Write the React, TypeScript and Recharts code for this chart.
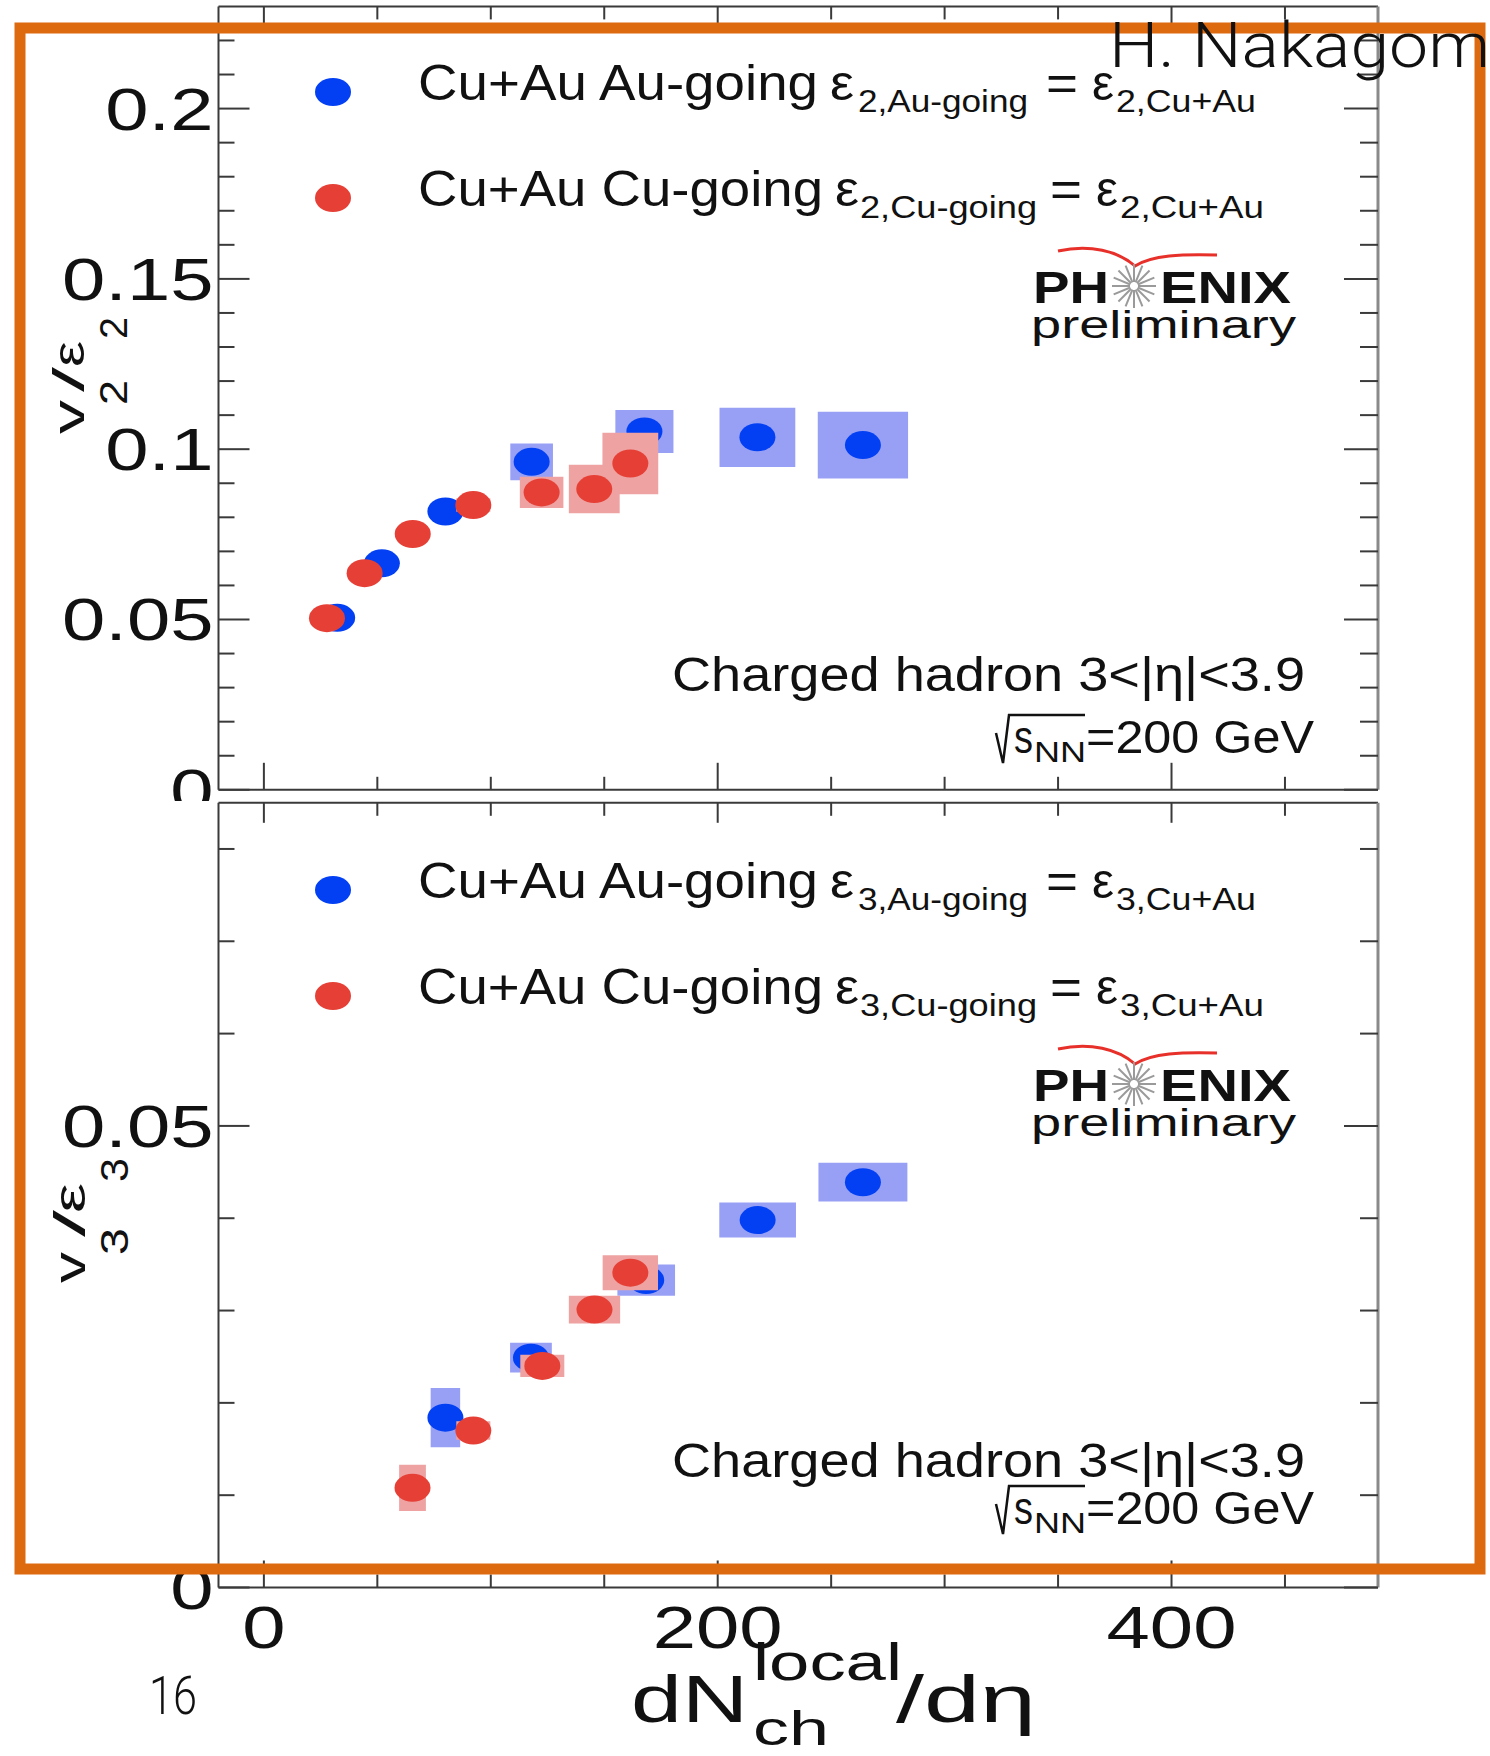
import React from "react";
import { ScatterChart, Scatter, XAxis, YAxis, ReferenceArea } from "recharts";

const FONT = "'Liberation Sans', Arial, Helvetica, sans-serif";
const LIGHT = "Roboto, 'Liberation Sans', sans-serif";
const BLUE = "#0340f4";
const RED = "#e63f36";
const BLUE_BOX = "#98a0f6";
const RED_BOX = "#eea2a2";
const ORANGE = "#de6a10";
const AXIS = "#3a3a3a";

// x axis: dN_ch^local/dη
const xDomain = [-20, 491];
const xTicks = [0, 50, 100, 150, 200, 250, 300, 350, 400, 450];
const xLabels = [0, 200, 400];

// v2/ε2 panel axis
const v2Domain = [0, 0.23];
const v2Ticks = [0, 0.01, 0.02, 0.03, 0.04, 0.05, 0.06, 0.07, 0.08, 0.09, 0.1, 0.11, 0.12, 0.13, 0.14, 0.15, 0.16, 0.17, 0.18, 0.19, 0.2, 0.21, 0.22];
const v2Labels = [0, 0.05, 0.1, 0.15, 0.2];

// v3/ε3 panel axis
const v3Domain = [0, 0.085];
const v3Ticks = [0, 0.01, 0.02, 0.03, 0.04, 0.05, 0.06, 0.07, 0.08];
const v3Labels = [0, 0.05];

// Cu+Au, Au-going, v2/ε2 (value, half-width of sys box)
const auX2 = [32.3, 52.0, 80.0, 118.0, 167.7, 217.5, 264.0];
const auV2 = [0.0505, 0.0665, 0.0817, 0.0963, 0.1052, 0.1035, 0.1012];
const auSysX2 = [3.0, 4.5, 6.5, 9.4, 12.8, 16.7, 19.9];
const auSysV2 = [0.0012, 0.0015, 0.002, 0.0054, 0.0063, 0.0087, 0.0098];

// Cu+Au, Cu-going, v2/ε2
const cuX2 = [27.8, 44.4, 65.6, 92.3, 122.4, 145.6, 161.5];
const cuV2 = [0.0504, 0.0636, 0.0751, 0.0836, 0.0873, 0.0883, 0.0958];
const cuSysX2 = [2.5, 4.0, 5.9, 7.5, 9.6, 11.2, 12.3];
const cuSysV2 = [0.0012, 0.0015, 0.002, 0.002, 0.0046, 0.0071, 0.009];

// Cu+Au, Au-going, v3/ε3
const auX3 = [80.0, 117.7, 168.5, 217.6, 264.0];
const auV3 = [0.0184, 0.0249, 0.0333, 0.0398, 0.0439];
const auSysX3 = [6.5, 9.2, 12.7, 16.9, 19.6];
const auSysV3 = [0.0032, 0.0016, 0.0017, 0.0019, 0.0021];

// Cu+Au, Cu-going, v3/ε3
const cuX3 = [65.5, 92.3, 122.7, 145.7, 161.5];
const cuV3 = [0.0108, 0.017, 0.024, 0.0301, 0.0341];
const cuSysX3 = [5.9, 7.5, 9.7, 11.3, 12.2];
const cuSysV3 = [0.0025, 0.001, 0.0012, 0.0015, 0.0019];

const toPoints = (xs: number[], ys: number[], sx: number[], sy: number[]) =>
  xs.map((x, i) => ({ x, y: ys[i], sx: sx[i], sy: sy[i] }));

const au2 = toPoints(auX2, auV2, auSysX2, auSysV2);
const cu2 = toPoints(cuX2, cuV2, cuSysX2, cuSysV2);
const au3 = toPoints(auX3, auV3, auSysX3, auSysV3);
const cu3 = toPoints(cuX3, cuV3, cuSysX3, cuSysV3);

const isMajor = (v: number, labels: number[]) => labels.some((l) => Math.abs(l - v) < 1e-9);
const fmt = (v: number) => (v === 0 ? "0" : String(v));

// ROOT-like wide text
function Stretch({ x, y, size, sx = 1.32, anchor = "start", children }: any) {
  return (
    <text
      transform={`translate(${x},${y}) scale(${sx},1)`}
      textAnchor={anchor}
      fontSize={size}
      fontFamily={FONT}
      fill="#111"
    >
      {children}
    </text>
  );
}

function T({ x, y, len, size, weight = 400, family = FONT, fill = "#111", children }: any) {
  return (
    <text
      x={x}
      y={y}
      fontSize={size}
      fontWeight={weight}
      fontFamily={family}
      fill={fill}
      textLength={len}
      lengthAdjust="spacingAndGlyphs"
    >
      {children}
    </text>
  );
}

// rotated (reads bottom to top)
function R({ x, y, len, size, children }: any) {
  return (
    <text
      transform={`translate(${x},${y}) rotate(-90)`}
      fontSize={size}
      fontFamily={FONT}
      fill="#111"
      textLength={len}
      lengthAdjust="spacingAndGlyphs"
    >
      {children}
    </text>
  );
}

const LeftTick = ({ x, y, payload, labels }: any) => {
  const major = isMajor(payload.value, labels);
  return (
    <g>
      <line x1={x} x2={x + (major ? 31 : 16)} y1={y} y2={y} stroke={AXIS} strokeWidth={2} />
      {major && (
        <Stretch x={x - 5} y={y + 21} size={59} anchor="end">
          {fmt(payload.value)}
        </Stretch>
      )}
    </g>
  );
};

const RightTick = ({ x, y, payload, labels }: any) => {
  const major = isMajor(payload.value, labels);
  return <line x1={x} x2={x - (major ? 34 : 18)} y1={y} y2={y} stroke={AXIS} strokeWidth={2} />;
};

const TopTick = ({ x, y, payload }: any) => {
  const major = isMajor(payload.value, xLabels);
  return <line x1={x} x2={x} y1={y} y2={y + (major ? 20 : 13)} stroke={AXIS} strokeWidth={2} />;
};

const BottomTick = ({ x, y, payload, showLabel }: any) => {
  const major = isMajor(payload.value, xLabels);
  return (
    <g>
      <line x1={x} x2={x} y1={y} y2={y - (major ? 27 : 13)} stroke={AXIS} strokeWidth={2} />
      {showLabel && major && (
        <Stretch x={x} y={y + 60} size={59} anchor="middle">
          {fmt(payload.value)}
        </Stretch>
      )}
    </g>
  );
};

const blueDot = (p: any) => <ellipse cx={p.cx} cy={p.cy} rx={18} ry={14} fill={BLUE} />;
const redDot = (p: any) => <ellipse cx={p.cx} cy={p.cy} rx={18} ry={14} fill={RED} />;

// axes are 1px thick so Recharts draws them; margins leave the plot frame at
// x 218.5..1378
function Panel({ top, height, marginTop, marginBottom, yDomain, yTicks, yLabels, au, cu, showXLabels }: any) {
  const common = {
    type: "number" as const,
    interval: 0 as const,
    allowDataOverflow: true,
    tickSize: 0,
    tickMargin: 0,
    tickLine: false,
  };
  return (
    <div style={{ position: "absolute", left: 0, top, width: 1490, height, background: "#fff" }}>
      <ScatterChart
        width={1490}
        height={height}
        margin={{ top: marginTop - 1, right: 111, bottom: marginBottom - 1, left: 217.5 }}
      >
        <XAxis
          {...common}
          xAxisId="B"
          dataKey="x"
          orientation="bottom"
          height={1}
          domain={xDomain}
          ticks={xTicks}
          axisLine={{ stroke: AXIS, strokeWidth: 2 }}
          tick={(p: any) => <BottomTick {...p} showLabel={showXLabels} />}
        />
        <XAxis
          {...common}
          xAxisId="T"
          dataKey="x"
          orientation="top"
          height={1}
          domain={xDomain}
          ticks={xTicks}
          axisLine={{ stroke: AXIS, strokeWidth: 2 }}
          tick={(p: any) => <TopTick {...p} />}
        />
        <YAxis
          {...common}
          yAxisId="L"
          dataKey="y"
          orientation="left"
          width={1}
          domain={yDomain}
          ticks={yTicks}
          axisLine={{ stroke: AXIS, strokeWidth: 2 }}
          tick={(p: any) => <LeftTick {...p} labels={yLabels} />}
        />
        <YAxis
          {...common}
          yAxisId="R"
          dataKey="y"
          orientation="right"
          width={1}
          domain={yDomain}
          ticks={yTicks}
          axisLine={{ stroke: "#8a8a8a", strokeWidth: 3 }}
          tick={(p: any) => <RightTick {...p} labels={yLabels} />}
        />
        {au.map((p: any, i: number) => (
          <ReferenceArea
            key={`ab${i}`}
            xAxisId="B"
            yAxisId="L"
            x1={p.x - p.sx}
            x2={p.x + p.sx}
            y1={p.y - p.sy}
            y2={p.y + p.sy}
            fill={BLUE_BOX}
            fillOpacity={1}
            stroke="none"
            ifOverflow="visible"
            zIndex={300}
          />
        ))}
        <Scatter data={au} xAxisId="B" yAxisId="L" shape={blueDot} isAnimationActive={false} zIndex={400} />
        {cu.map((p: any, i: number) => (
          <ReferenceArea
            key={`cb${i}`}
            xAxisId="T"
            yAxisId="R"
            x1={p.x - p.sx}
            x2={p.x + p.sx}
            y1={p.y - p.sy}
            y2={p.y + p.sy}
            fill={RED_BOX}
            fillOpacity={1}
            stroke="none"
            ifOverflow="visible"
            zIndex={500}
          />
        ))}
        <Scatter data={cu} xAxisId="T" yAxisId="R" shape={redDot} isAnimationActive={false} zIndex={600} />
      </ScatterChart>
    </div>
  );
}

function Legend({ dy, n }: any) {
  return (
    <g transform={`translate(0,${dy})`}>
      <ellipse cx={333} cy={92} rx={18} ry={14} fill={BLUE} />
      <T x={418} y={100} len={400} size={50}>Cu+Au Au-going</T>
      <T x={830} y={100} len={24} size={50}>ε</T>
      <T x={858} y={112} len={170} size={31}>{`${n},Au-going`}</T>
      <T x={1046} y={100} len={32} size={50}>=</T>
      <T x={1092} y={100} len={22} size={50}>ε</T>
      <T x={1116} y={112} len={140} size={31}>{`${n},Cu+Au`}</T>

      <ellipse cx={333} cy={198} rx={18} ry={14} fill={RED} />
      <T x={418} y={206} len={405} size={50}>Cu+Au Cu-going</T>
      <T x={835} y={206} len={24} size={50}>ε</T>
      <T x={860} y={218} len={177} size={31}>{`${n},Cu-going`}</T>
      <T x={1050} y={206} len={32} size={50}>=</T>
      <T x={1096} y={206} len={22} size={50}>ε</T>
      <T x={1120} y={218} len={144} size={31}>{`${n},Cu+Au`}</T>
    </g>
  );
}

function Logo({ dy }: any) {
  const cx = 1134;
  const cy = 286;
  const rays = Array.from({ length: 16 }, (_, i) => (i * Math.PI) / 8);
  return (
    <g transform={`translate(0,${dy})`}>
      <path
        d="M1058,251 C1090,244 1118,251 1135,266 C1152,255 1182,254 1217,255"
        stroke="#e8302a"
        strokeWidth={3}
        fill="none"
      />
      <T x={1033} y={303} len={76} size={45} weight={700}>PH</T>
      {rays.map((a, i) => (
        <line
          key={i}
          x1={cx + 4 * Math.cos(a)}
          y1={cy + 4 * Math.sin(a)}
          x2={cx + 22 * Math.cos(a)}
          y2={cy + 22 * Math.sin(a)}
          stroke="#9a9a9a"
          strokeWidth={2}
        />
      ))}
      <T x={1160} y={303} len={131} size={45} weight={700}>ENIX</T>
      <T x={1031} y={338} len={265} size={38}>preliminary</T>
    </g>
  );
}

function Energy({ base, hadronBase }: any) {
  return (
    <g>
      <T x={672} y={hadronBase} len={633} size={48}>Charged hadron 3&lt;|η|&lt;3.9</T>
      <path
        d={`M996,${base - 20} L1003,${base + 10} L1009,${base - 38} L1085,${base - 38}`}
        stroke="#111"
        strokeWidth={2.5}
        fill="none"
      />
      <T x={1014} y={base} len={19} size={46}>s</T>
      <T x={1034} y={base + 9} len={52} size={30}>NN</T>
      <T x={1086} y={base} len={228} size={46}>=200 GeV</T>
    </g>
  );
}

function Overlay() {
  return (
    <svg
      width={1490}
      height={1756}
      style={{ position: "absolute", left: 0, top: 0, pointerEvents: "none" }}
    >
      <Legend dy={0} n={2} />
      <Legend dy={798} n={3} />
      <Logo dy={0} />
      <Logo dy={798} />
      <Energy base={753} hadronBase={691} />
      <Energy base={1524} hadronBase={1477} />

      {/* y axis titles */}
      <R x={84} y={434} len={34} size={44}>v</R>
      <R x={127} y={405} len={25} size={38}>2</R>
      <R x={84} y={392} len={25} size={44}>/</R>
      <R x={84} y={367} len={26} size={44}>ε</R>
      <R x={127} y={339} len={22} size={38}>2</R>

      <R x={85} y={1283} len={31} size={44}>v</R>
      <R x={128} y={1255} len={27} size={38}>3</R>
      <R x={85} y={1237} len={27} size={44}>/</R>
      <R x={85} y={1213} len={30} size={44}>ε</R>
      <R x={128} y={1182} len={24} size={38}>3</R>

      {/* x axis title */}
      <T x={631} y={1722} len={117} size={66}>dN</T>
      <T x={753} y={1680} len={149} size={52}>local</T>
      <T x={753} y={1745} len={76} size={48}>ch</T>
      <T x={896} y={1722} len={140} size={66}>/dη</T>

      <rect x={20} y={28} width={1460} height={1541} fill="none" stroke={ORANGE} strokeWidth={11} />

      <T x={1109} y={67} len={381} size={63} weight={300} family={LIGHT}>H. Nakagom</T>
      <T x={149} y={1714} len={48} size={54} weight={300} family={LIGHT}>16</T>
    </svg>
  );
}

export default function App() {
  return (
    <div style={{ position: "absolute", left: 0, top: 0, width: 1490, height: 1756, background: "#fff", overflow: "hidden" }}>
      <Panel
        top={0}
        height={801}
        marginTop={6.4}
        marginBottom={11.2}
        yDomain={v2Domain}
        yTicks={v2Ticks}
        yLabels={v2Labels}
        au={au2}
        cu={cu2}
        showXLabels={false}
      />
      <Panel
        top={801}
        height={955}
        marginTop={1.8}
        marginBottom={168.5}
        yDomain={v3Domain}
        yTicks={v3Ticks}
        yLabels={v3Labels}
        au={au3}
        cu={cu3}
        showXLabels={true}
      />
      <Overlay />
    </div>
  );
}
